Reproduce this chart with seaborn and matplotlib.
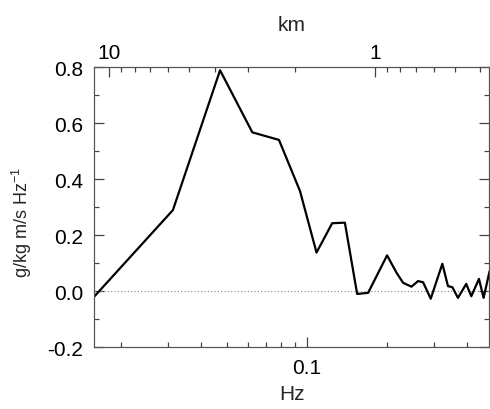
import numpy as np
import pandas as pd
import matplotlib
matplotlib.use("Agg")
import matplotlib.pyplot as plt
import matplotlib.ticker as mticker
import seaborn as sns

# spectrum (frequency in Hz, density in g/kg m/s Hz^-1)
freq_hz = [0.0158, 0.0313, 0.0471, 0.0623, 0.0785, 0.0942, 0.1087, 0.1245,
           0.139, 0.1546, 0.170, 0.2004, 0.2175, 0.2302, 0.2475, 0.262,
           0.2738, 0.2926, 0.3236, 0.3398, 0.353, 0.3705, 0.398, 0.416,
           0.4445, 0.4627, 0.4875]
spec = [-0.02, 0.29, 0.79, 0.568, 0.541, 0.358, 0.138, 0.243,
        0.245, -0.01, -0.006, 0.128, 0.066, 0.03, 0.016, 0.036,
        0.032, -0.027, 0.098, 0.018, 0.014, -0.024, 0.026, -0.018,
        0.044, -0.024, 0.072]

hz_ticks = [0.1]
hz_tick_labels = ["0.1"]
km_ticks = [1, 10]
km_tick_labels = ["1", "10"]
y_ticks = [-0.2, 0.0, 0.2, 0.4, 0.6, 0.8]

# aircraft speed used for the km axis (km/s)
speed = 0.18
hz_lim = (0.0158, 0.485)

sns.set_style("ticks")
plt.rcParams["font.family"] = ["Liberation Sans", "DejaVu Sans"]

df = pd.DataFrame({"Hz": freq_hz, "spec": spec})

fig = plt.figure(figsize=(4.9, 4.1), dpi=100)
ax = fig.add_axes([0.192, 0.151, 0.806, 0.682])

ax.axhline(0, color="#888888", lw=0.8, ls=(0, (1, 2)), zorder=1)
sns.lineplot(data=df, x="Hz", y="spec", ax=ax, color="black", lw=1.6,
             estimator=None, sort=False, zorder=3)

ax.set_xscale("log")
ax.set_xlim(*hz_lim)
ax.set_ylim(-0.2, 0.8)

ax.xaxis.set_major_locator(mticker.FixedLocator(hz_ticks))
ax.xaxis.set_major_formatter(mticker.FixedFormatter(hz_tick_labels))
ax.xaxis.set_minor_locator(mticker.LogLocator(base=10, subs=np.arange(2, 10)))
ax.xaxis.set_minor_formatter(mticker.NullFormatter())

ax.set_yticks(y_ticks)
ax.yaxis.set_major_formatter(mticker.FormatStrFormatter("%.1f"))
ax.yaxis.set_minor_locator(mticker.MultipleLocator(0.1))

# top axis in km (wavelength = speed / frequency)
ax2 = ax.twiny()
ax2.set_xscale("log")
ax2.set_xlim(speed / hz_lim[0], speed / hz_lim[1])
ax2.xaxis.set_major_locator(mticker.FixedLocator(km_ticks))
ax2.xaxis.set_major_formatter(mticker.FixedFormatter(km_tick_labels))
ax2.xaxis.set_minor_locator(mticker.LogLocator(base=10, subs=np.arange(2, 10)))
ax2.xaxis.set_minor_formatter(mticker.NullFormatter())

for a in (ax, ax2):
    for s in a.spines.values():
        s.set_color("#555555")
        s.set_linewidth(0.8)
        s.set_visible(True)
    a.tick_params(axis="both", which="both", direction="in", colors="#444444",
                  labelcolor="black", labelsize=15, width=0.9)
    a.tick_params(which="major", length=7)
    a.tick_params(which="minor", length=3.5)

ax.tick_params(axis="x", which="both", top=False, bottom=True, pad=8)
ax.tick_params(axis="y", which="both", left=True, right=True, pad=8)
ax2.tick_params(axis="x", which="both", top=True, bottom=False, pad=4)

ax.set_xlabel("Hz", fontsize=15, labelpad=5)
ax.set_ylabel(r"g/kg m/s Hz$^{\mathregular{-1}}$", fontsize=13)
ax.yaxis.set_label_coords(-0.152, 0.45)
ax2.set_xlabel("km", fontsize=15, labelpad=9)

fig.savefig("out.png", dpi=100)
